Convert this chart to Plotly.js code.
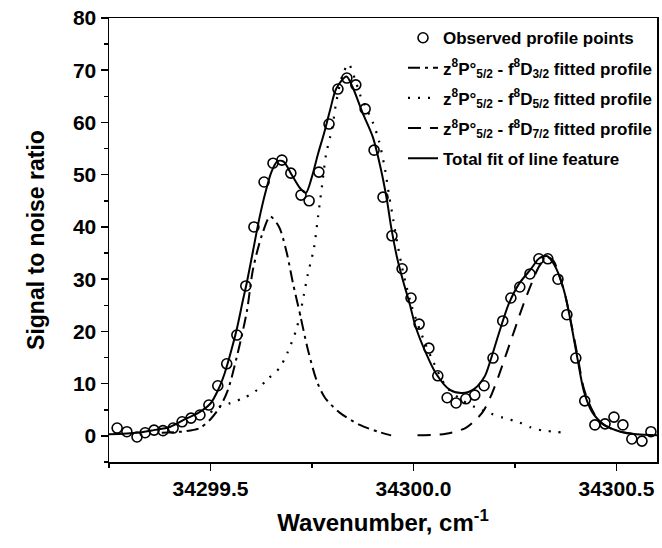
<!DOCTYPE html>
<html>
<head>
<meta charset="utf-8">
<script src="https://cdn.plot.ly/plotly-3.0.1.min.js"></script>
<style>html,body{margin:0;padding:0;background:#fff;}#chart{width:662px;height:548px;}</style>
</head>
<body>
<div id="chart"></div>
<script>
// Observed profile points
const obsX = [34299.270,34299.294,34299.319,34299.339,34299.361,34299.383,34299.408,34299.430,34299.452,34299.474,34299.496,34299.518,34299.540,34299.565,34299.587,34299.607,34299.632,34299.654,34299.676,34299.698,34299.723,34299.743,34299.767,34299.792,34299.814,34299.836,34299.858,34299.881,34299.903,34299.925,34299.947,34299.972,34299.994,34300.014,34300.038,34300.060,34300.083,34300.105,34300.129,34300.151,34300.174,34300.196,34300.220,34300.240,34300.262,34300.287,34300.309,34300.331,34300.356,34300.378,34300.400,34300.422,34300.447,34300.472,34300.494,34300.516,34300.538,34300.563,34300.585];
const obsY = [1.5,0.8,-0.2,0.6,1.1,1.0,1.5,2.7,3.4,4.0,5.9,9.6,13.8,19.3,28.7,40.0,48.6,52.2,52.8,50.3,46.1,45.0,50.5,59.7,66.4,68.5,67.2,62.6,54.7,45.7,38.3,32.0,26.4,21.4,16.8,11.5,7.3,6.3,7.1,7.8,9.6,14.9,22.0,26.4,28.5,31.0,33.9,33.9,30.0,23.2,14.9,6.7,2.1,2.3,3.6,2.1,-0.6,-1.0,0.8];

// z8P°5/2 - f8D3/2 fitted profile (dash-dot)
const d32X = [34299.38,34299.44,34299.474,34299.499,34299.523,34299.543,34299.573,34299.590,34299.605,34299.627,34299.647,34299.669,34299.688,34299.703,34299.720,34299.740,34299.762,34299.782,34299.819,34299.868,34299.917,34299.945];
const d32Y = [0.6,0.9,1.5,3.1,5.5,8.8,17.8,24,32,38.5,42,40,35,29.3,23.5,16.5,10.5,7.3,4.4,2.1,0.7,0.1];

// z8P°5/2 - f8D5/2 fitted profile (dotted)
const d52X = [34299.50,34299.52,34299.55,34299.58,34299.61,34299.64,34299.67,34299.69,34299.71,34299.72,34299.73,34299.74,34299.755,34299.765,34299.775,34299.785,34299.80,34299.81,34299.825,34299.84,34299.855,34299.87,34299.90,34299.915,34299.93,34299.94,34299.95,34299.96,34299.97,34299.98,34299.995,34300.01,34300.03,34300.05,34300.08,34300.12,34300.16,34300.19,34300.22,34300.26,34300.29,34300.32,34300.35,34300.38];
const d52Y = [4.5,5.5,6.3,7.2,8.5,10.8,13,16,20,23,27,31,36,42,48,54,59,64,69,71.2,68.5,65,60,56.5,51,46,41.5,37,33,29.5,25,21.5,17.5,14,9.5,6.8,5.2,4.3,3.5,2.6,1.6,1.0,0.8,0.5];

// z8P°5/2 - f8D7/2 fitted profile (dashed)
const d72X = [34300.01,34300.08,34300.13,34300.17,34300.19,34300.21,34300.23,34300.25,34300.27,34300.29,34300.31,34300.33,34300.345,34300.36,34300.375,34300.39,34300.405,34300.42,34300.44,34300.46,34300.50,34300.55];
const d72Y = [0.1,0.4,1.6,4.5,7.5,11.5,16,20.5,25,29,32.5,34.2,33.5,30.5,26.5,21,15,9,5,2.6,1.0,0.3];

// Total fit of line feature (solid)
const totX = [34299.25,34299.32,34299.36,34299.40,34299.44,34299.47,34299.50,34299.52,34299.535,34299.55,34299.565,34299.58,34299.59,34299.605,34299.62,34299.635,34299.65,34299.665,34299.68,34299.70,34299.72,34299.735,34299.75,34299.765,34299.78,34299.795,34299.81,34299.835,34299.85,34299.875,34299.90,34299.92,34299.935,34299.945,34299.96,34299.975,34299.99,34300.005,34300.03,34300.055,34300.09,34300.12,34300.15,34300.175,34300.19,34300.21,34300.235,34300.26,34300.29,34300.31,34300.33,34300.345,34300.36,34300.375,34300.39,34300.405,34300.42,34300.44,34300.47,34300.51,34300.55,34300.60];
const totY = [0.3,0.6,1.1,1.7,3.3,4.4,6.2,9.0,12,16,20.5,26,29.5,35.5,41.5,46.5,50.5,52.6,52.5,50,47.5,46.5,49.6,54,58,62.5,66.5,68.8,66.8,61.8,57.2,51,45,40,34,29.5,25.5,21,16,12,8.8,8.2,9.0,11.3,14.5,19.5,25.3,29.1,32,34,34.4,33,30.5,26.6,20.8,14.4,8.5,4.6,2.1,0.8,0.3,0.1];

const names = [
  'Observed profile points',
  'z<sup>8</sup>P°<sub>5/2</sub> - f<sup>8</sup>D<sub>3/2</sub> fitted profile',
  'z<sup>8</sup>P°<sub>5/2</sub> - f<sup>8</sup>D<sub>5/2</sub> fitted profile',
  'z<sup>8</sup>P°<sub>5/2</sub> - f<sup>8</sup>D<sub>7/2</sub> fitted profile',
  'Total fit of line feature'
];

const FONT = 'Arial, "Liberation Sans", sans-serif';

const traces = [
  {x: obsX, y: obsY, mode: 'markers', name: names[0], legendgroup: 'a',
   marker: {symbol: 'circle-open', size: 10, color: '#000', line: {width: 1.6, color: '#000'}}},
  {x: d32X, y: d32Y, mode: 'lines', name: names[1], legendgroup: 'b',
   line: {color: '#000', width: 2, dash: '12px,5px,3px,5px', shape: 'spline', smoothing: 0.8}},
  {x: d52X, y: d52Y, mode: 'lines', name: names[2], legendgroup: 'c',
   line: {color: '#000', width: 2.2, dash: '2px,8px', shape: 'spline', smoothing: 0.8}},
  {x: d72X, y: d72Y, mode: 'lines', name: names[3], legendgroup: 'd',
   line: {color: '#000', width: 2, dash: '13px,9px', shape: 'spline', smoothing: 0.8}},
  {x: totX, y: totY, mode: 'lines', name: names[4], legendgroup: 'e',
   line: {color: '#000', width: 2, shape: 'spline', smoothing: 0.8}}
];

const layout = {
  width: 662, height: 548,
  margin: {l: 109, r: 5, t: 18, b: 86},
  paper_bgcolor: '#fff', plot_bgcolor: '#fff',
  font: {family: FONT, color: '#000'},
  showlegend: true,
  legend: {x: 1, xanchor: 'right', y: 0.995, yanchor: 'top', bgcolor: 'rgba(0,0,0,0)',
           font: {family: FONT, size: 17, weight: 'bold', color: '#000'}, tracegroupgap: 5,
           itemwidth: 30},
  xaxis: {
    range: [34299.25, 34300.6], tick0: 34299.5, dtick: 0.5, tickformat: '.1f',
    ticks: 'outside', ticklen: 7, tickwidth: 1.5, tickcolor: '#000',
    minor: {dtick: 0.25, tick0: 34299.25, ticks: 'outside', ticklen: 4, tickwidth: 1.5, tickcolor: '#000'},
    showline: true, linewidth: 1.5, linecolor: '#000', mirror: true,
    showgrid: false, zeroline: false,
    tickfont: {family: FONT, size: 21, weight: 'bold'},
    title: {text: 'Wavenumber, cm<sup>-1</sup>', font: {family: FONT, size: 24, weight: 'bold'}, standoff: 15}
  },
  yaxis: {
    range: [-5, 80], tick0: 0, dtick: 10,
    ticks: 'outside', ticklen: 7, tickwidth: 1.5, tickcolor: '#000',
    minor: {dtick: 5, tick0: 0, ticks: 'outside', ticklen: 4, tickwidth: 1.5, tickcolor: '#000'},
    showline: true, linewidth: 1.5, linecolor: '#000', mirror: true,
    showgrid: false, zeroline: false,
    tickfont: {family: FONT, size: 21, weight: 'bold'},
    title: {text: 'Signal to noise ratio', font: {family: FONT, size: 23, weight: 'bold'}, standoff: 22}
  }
};

Plotly.newPlot('chart', traces, layout, {displayModeBar: false, staticPlot: true});
</script>
</body>
</html>
